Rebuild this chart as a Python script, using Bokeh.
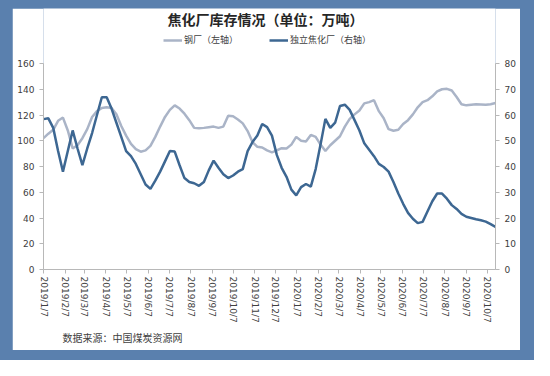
import pandas as pd
from bokeh.plotting import figure
from bokeh.layouts import column
from bokeh.models import (Range1d, LinearAxis, FixedTicker, Legend, LegendItem, Title, Label)
from bokeh.embed import file_html
from bokeh.resources import INLINE

# ---------------- data ----------------
dates = pd.date_range("2019-01-07", periods=94, freq="7D")

steel = [102, 105.5, 108.5, 115.5, 118, 108, 94, 96.5, 102, 109,
         118.5, 123, 125.5, 126, 125.5, 120.5, 111.5, 104, 97.5, 93.5,
         91.5, 92.5, 96, 103, 111, 118.5, 124, 127.5, 125, 121,
         116, 110, 109.7, 110, 110.5, 111, 110, 111, 119.5, 119,
         116.5, 113.5, 107.5, 99, 95.3, 94.8, 92.5, 91, 92.5, 94.2,
         94, 97, 103, 100, 99.5, 104.5, 103, 97, 92, 96.5,
         100, 103.5, 111, 117, 120.5, 123.5, 129, 130, 131.5, 123,
         117.5, 109, 107.8, 108.5, 113, 116, 120.5, 126, 130, 131.5,
         134.5, 138.3, 140, 140.3, 139, 134, 128.4, 127.5, 128, 128.4,
         128.2, 127.9, 128.3, 129.3]

coking = [58.4, 58.7, 55, 46, 38, 46, 54, 47, 40.5, 47,
          53, 60, 66.9, 66.9, 62.5, 57, 51.5, 46, 44, 41,
          37, 33, 31.3, 34.5, 38, 42, 46, 45.8, 40.5, 35.5,
          34, 33.5, 32.5, 34, 38.5, 42.3, 39.5, 37, 35.5, 36.5,
          38, 39, 46, 49.5, 52, 56.5, 55.3, 52, 44.5, 39.5,
          36, 31, 28.8, 32, 33.2, 32.2, 39, 48.5, 58.5, 55,
          57, 63.5, 64, 62, 58, 54, 49, 46.5, 44, 41,
          39.8, 38, 34, 29.5, 25.5, 22, 19.7, 18, 18.5, 22.5,
          26.5, 29.5, 29.5, 27.5, 25, 23.5, 21.6, 20.5, 20, 19.5,
          19.1, 18.6, 17.6, 16.5]

tick_labels = ["2019/1/7", "2019/2/7", "2019/3/7", "2019/4/7", "2019/5/7",
               "2019/6/7", "2019/7/7", "2019/8/7", "2019/9/7", "2019/10/7",
               "2019/11/7", "2019/12/7", "2020/1/7", "2020/2/7", "2020/3/7",
               "2020/4/7", "2020/5/7", "2020/6/7", "2020/7/7", "2020/8/7",
               "2020/9/7", "2020/10/7"]
left_ticks = [0, 20, 40, 60, 80, 100, 120, 140, 160]
right_ticks = [0, 10, 20, 30, 40, 50, 60, 70, 80]

title_text = "焦化厂库存情况（单位：万吨）"
legend_labels = ["钢厂（左轴）", "独立焦化厂（右轴）"]
source_text = "数据来源：中国煤炭资源网"

# ---------------- styling ----------------
BLUE_BG = "#5a80ae"
STEEL_C = "#aab4c7"
COKE_C = "#3d6792"
AXIS_C = "#b8b8b8"
TEXT_C = "#404040"
CJK = "Noto Sans CJK SC"

# plot area: value axes occupy the lower 206 px of a 261 px tall frame;
# the upper part holds title and legend
FRAME_H = 261
AXIS_H = 206
left_max = left_ticks[-1] * FRAME_H / AXIS_H
right_max = right_ticks[-1] * FRAME_H / AXIS_H

tick_ms = [pd.Timestamp(t.replace("/", "-")).value // 10**6 for t in tick_labels]
x0 = dates[0].value // 10**6
x1 = dates[-1].value // 10**6

p = figure(width=508, height=342, x_axis_type="datetime", title_location=None,
           x_range=Range1d(x0, x1), y_range=Range1d(0, left_max),
           output_backend="svg", toolbar_location=None,
           min_border_left=31, min_border_right=25,
           min_border_top=0, min_border_bottom=81)
p.border_fill_color = "white"
p.background_fill_color = "white"
p.outline_line_color = None
p.xgrid.visible = False
p.ygrid.visible = False

p.extra_y_ranges = {"right": Range1d(0, right_max)}

r_steel = p.line(dates, steel, line_color=STEEL_C, line_width=2.5)
r_coke = p.line(dates, coking, line_color=COKE_C, line_width=2.5,
                y_range_name="right")

def style_axis(ax):
    ax.axis_line_color = AXIS_C
    ax.major_tick_line_color = AXIS_C
    ax.minor_tick_line_color = None
    ax.major_tick_in = 0
    ax.major_tick_out = 4
    ax.major_label_text_font = "DejaVu Sans"
    ax.major_label_text_font_size = "9px"
    ax.major_label_text_color = TEXT_C

xa = p.xaxis[0]
xa.ticker = FixedTicker(ticks=tick_ms)
xa.major_label_overrides = {t: lab for t, lab in zip(tick_ms, tick_labels)}
xa.major_label_orientation = "vertical"
xa.major_label_standoff = 3
style_axis(xa)

ya = p.yaxis[0]
ya.ticker = FixedTicker(ticks=left_ticks)
ya.bounds = (left_ticks[0], left_ticks[-1])
ya.major_label_standoff = 5
style_axis(ya)

ra = LinearAxis(y_range_name="right", ticker=FixedTicker(ticks=right_ticks),
                bounds=(right_ticks[0], right_ticks[-1]))
ra.major_label_standoff = 5
style_axis(ra)
p.add_layout(ra, "right")

# title (inside the tall frame, screen units relative to frame bottom-left)
p.add_layout(Label(x=222, y=FRAME_H - 10, x_units="screen", y_units="screen",
                   text=title_text, text_align="center", text_baseline="middle",
                   text_font=CJK, text_font_style="bold", text_font_size="14px",
                   text_color="#262626"))

# legend
legend = Legend(items=[LegendItem(label=legend_labels[0], renderers=[r_steel]),
                       LegendItem(label=legend_labels[1], renderers=[r_coke])],
                orientation="horizontal", location=(120, FRAME_H - 38),
                margin=0, padding=0, spacing=31, glyph_width=19, glyph_height=12,
                label_height=12, label_standoff=2,
                label_text_font=CJK, label_text_font_size="9px",
                label_text_color=TEXT_C,
                background_fill_alpha=0, border_line_color=None)
p.add_layout(legend, "center")

# source note below the axis
src = Title(text=source_text, align="left", offset=19,
            text_font=CJK, text_font_size="10px", text_font_style="normal",
            text_color=TEXT_C, standoff=4)
p.add_layout(src, "below")

layout = column(p, styles={"background-color": BLUE_BG,
                           "padding": "8px 14px 10px 12px"})

open("out.html", "w").write(file_html(layout, INLINE))
